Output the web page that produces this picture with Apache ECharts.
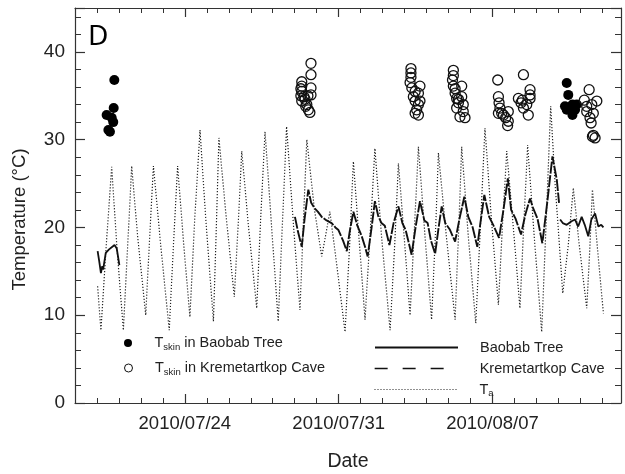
<!DOCTYPE html>
<html>
<head>
<meta charset="utf-8">
<script src="https://cdn.jsdelivr.net/npm/echarts@6/dist/echarts.min.js"></script>
<style>
  html, body { margin: 0; padding: 0; background: #fff; }
  #chart { width: 625px; height: 474px; }
</style>
</head>
<body>
<div id="chart"></div>
<script>
// x values are days since 2010-07-19 00:00
const xTickDays = [5, 12, 19];
const xTickLabels = ['2010/07/24', '2010/07/31', '2010/08/07'];
const yTickLabels = [0, 10, 20, 30, 40];

// Air temperature T_a (dotted)
const airTemp = [
  [1.03, 13.3], [1.18, 8.3], [1.45, 19.0], [1.67, 26.9], [1.9, 18.0], [2.2, 8.3],
  [2.42, 19.0], [2.58, 27.0], [2.85, 19.0], [3.22, 10.0], [3.4, 19.0], [3.57, 27.0],
  [3.9, 18.0], [4.29, 8.3], [4.48, 18.0], [4.67, 27.0], [4.95, 18.0], [5.23, 9.8],
  [5.45, 21.0], [5.69, 31.1], [5.95, 21.0], [6.3, 9.3], [6.42, 19.0], [6.55, 30.2],
  [6.85, 22.0], [7.25, 12.1], [7.42, 20.0], [7.59, 28.7], [7.9, 20.0], [8.27, 10.8],
  [8.45, 21.0], [8.65, 30.9], [8.95, 20.0], [9.25, 9.3], [9.45, 21.0], [9.63, 31.5],
  [9.95, 20.0], [10.24, 10.6], [10.4, 21.0], [10.55, 30.0], [10.9, 22.0], [11.23, 16.7],
  [11.4, 19.0], [11.6, 21.8], [11.9, 16.0], [12.29, 8.1], [12.5, 18.0], [12.67, 27.5],
  [12.95, 18.0], [13.2, 9.5], [13.45, 20.0], [13.65, 29.0], [13.95, 19.0], [14.34, 8.3],
  [14.55, 18.0], [14.72, 27.3], [14.98, 19.0], [15.25, 10.0], [15.45, 20.0], [15.63, 29.2],
  [15.93, 19.0], [16.23, 9.5], [16.4, 19.0], [16.54, 28.5], [16.9, 19.0], [17.3, 9.5],
  [17.45, 19.0], [17.6, 29.2], [17.9, 19.0], [18.24, 9.1], [18.45, 20.0], [18.66, 31.3],
  [18.95, 21.0], [19.27, 11.2], [19.45, 20.0], [19.65, 28.7], [19.95, 20.0], [20.25, 10.8],
  [20.42, 20.0], [20.6, 29.4], [20.9, 19.0], [21.24, 8.1], [21.45, 21.0], [21.65, 33.8],
  [21.85, 25.0], [22.2, 12.5], [22.45, 18.0], [22.68, 24.5], [22.95, 18.0], [23.29, 10.8],
  [23.42, 17.0], [23.55, 24.3], [23.8, 17.0], [24.05, 10.2]
];

// Baobab Tree roost temperature (solid)
const baobabTemp = [
  [1.03, 17.3], [1.1, 16.2], [1.18, 14.8], [1.24, 15.6], [1.28, 15.2], [1.4, 17.1],
  [1.55, 17.5], [1.7, 17.8], [1.8, 18.0], [1.9, 17.6], [2.02, 15.7],
  [5.0, null],
  [22.08, 20.9], [22.2, 20.5], [22.38, 20.3], [22.6, 20.7], [22.76, 20.9], [22.9, 20.1],
  [23.06, 21.2], [23.2, 20.3], [23.36, 19.0], [23.5, 20.9], [23.67, 21.6], [23.82, 20.1],
  [23.95, 20.3], [24.05, 20.0]
];

// Kremetartkop Cave roost temperature (dashed)
const caveTemp = [
  [10.01, 21.2], [10.15, 19.5], [10.32, 17.8], [10.45, 21.0], [10.62, 24.3], [10.75, 22.8],
  [10.9, 22.2], [11.05, 21.8], [11.23, 21.2], [11.45, 20.8], [11.68, 20.5], [11.85, 20.0],
  [11.99, 19.7], [12.2, 18.5], [12.37, 17.3], [12.5, 19.5], [12.67, 21.8], [12.85, 20.2],
  [13.05, 19.0], [13.2, 17.8], [13.32, 16.7], [13.5, 20.0], [13.65, 23.0], [13.8, 21.3],
  [13.95, 20.5], [14.1, 20.2], [14.31, 18.0], [14.5, 20.5], [14.72, 22.4], [14.9, 20.5],
  [15.05, 19.7], [15.32, 16.9], [15.5, 20.0], [15.7, 23.0], [15.9, 20.8], [16.05, 20.5],
  [16.2, 18.5], [16.39, 17.0], [16.55, 20.0], [16.69, 22.4], [16.85, 20.5], [17.05, 19.8],
  [17.3, 18.4], [17.5, 21.0], [17.72, 23.5], [17.9, 21.2], [18.1, 20.0], [18.31, 17.8],
  [18.45, 20.5], [18.63, 23.7], [18.85, 21.2], [19.05, 20.2], [19.3, 18.8], [19.5, 22.0],
  [19.7, 25.6], [19.85, 22.0], [20.05, 21.0], [20.3, 19.2], [20.5, 21.5], [20.71, 23.3],
  [20.85, 22.2], [21.05, 21.0], [21.27, 18.2], [21.5, 23.0], [21.73, 28.1], [21.93, 25.4],
  [22.03, 22.8]
];

// Skin temperature of bats in the Baobab Tree (filled circles)
const skinBaobab = [
  [1.79, 36.8], [1.76, 33.6], [1.44, 32.8], [1.67, 32.5], [1.74, 32.0], [1.52, 31.1], [1.59, 30.9],
  [22.38, 36.45], [22.45, 35.1], [22.30, 33.8], [22.64, 34.0], [22.76, 33.4], [22.53, 33.4],
  [22.38, 33.4], [22.64, 32.8], [22.84, 34.0]
];

// Skin temperature of bats in Kremetartkop Cave (open circles)
const skinCave = [
  [10.74, 38.7], [10.74, 37.4], [10.74, 35.9], [10.74, 35.1], [10.32, 36.6], [10.32, 36.1],
  [10.32, 35.5], [10.28, 35.0], [10.32, 34.4], [10.47, 34.6], [10.55, 34.0], [10.62, 33.4],
  [10.69, 33.1], [10.42, 34.9], [10.28, 35.8], [10.6, 35.0], [10.5, 33.8],
  [15.29, 38.1], [15.29, 37.6], [15.29, 37.1], [15.25, 36.5], [15.33, 35.9], [15.70, 36.1],
  [15.48, 35.5], [15.40, 34.9], [15.48, 34.4], [15.63, 34.0], [15.70, 34.4], [15.55, 33.4],
  [15.63, 32.8], [15.48, 33.0], [15.63, 35.3],
  [17.22, 37.9], [17.22, 37.3], [17.18, 36.8], [17.22, 36.1], [17.60, 36.1], [17.30, 35.3],
  [17.37, 34.7], [17.60, 34.9], [17.45, 34.2], [17.67, 34.0], [17.37, 33.6], [17.67, 33.2],
  [17.52, 32.6], [17.75, 32.5], [17.45, 34.6], [17.30, 35.8],
  [19.24, 36.8], [19.27, 34.9], [19.30, 34.2], [19.34, 33.6], [19.42, 33.0], [19.72, 33.2],
  [19.60, 32.5], [19.72, 32.1], [19.69, 31.6], [19.27, 33.0], [19.5, 32.8],
  [20.41, 37.4], [20.18, 34.7], [20.36, 34.5], [20.71, 35.7], [20.71, 35.1], [20.71, 34.7],
  [20.56, 34.0], [20.41, 33.6], [20.63, 32.8], [20.30, 34.2],
  [23.40, 35.7], [23.18, 34.5], [23.75, 34.4], [23.29, 33.8], [23.52, 34.0], [23.29, 33.2],
  [23.59, 33.0], [23.44, 32.5], [23.49, 31.9], [23.59, 30.5], [23.67, 30.2], [23.55, 30.35]
];

const FONT = 'Liberation Sans';
const AX = '#333';
const X_MIN = 0, X_MAX = 24.85, Y_MIN = 0, Y_MAX = 45;

function xAx(pos, major, extra) {
  return Object.assign({
    type: 'value', position: pos, min: X_MIN, max: X_MAX, interval: 1,
    axisLine: { show: !major, onZero: false, lineStyle: { color: AX, width: 1.2 } },
    axisTick: major
      ? { show: true, inside: true, length: 9, customValues: xTickDays, lineStyle: { color: AX, width: 1.2 } }
      : { show: true, inside: true, length: 5, lineStyle: { color: AX, width: 1 } },
    axisLabel: { show: false },
    splitLine: { show: false }
  }, extra || {});
}
function yAx(pos, major, extra) {
  return Object.assign({
    type: 'value', position: pos, min: Y_MIN, max: Y_MAX, interval: major ? 10 : 2,
    axisLine: { show: !major, onZero: false, lineStyle: { color: AX, width: 1.2 } },
    axisTick: major
      ? { show: true, inside: true, length: 10, lineStyle: { color: AX, width: 1.2 } }
      : { show: true, inside: true, length: 6, lineStyle: { color: AX, width: 1 } },
    axisLabel: { show: false },
    splitLine: { show: false }
  }, extra || {});
}

const labelMap = {};
xTickDays.forEach((d, i) => { labelMap[d] = xTickLabels[i]; });

const legendNames = {
  'Tskin in Baobab Tree': '{m|T}{s|skin}{m| in Baobab Tree}',
  'Tskin in Kremetartkop Cave': '{m|T}{s|skin}{m| in Kremetartkop Cave}',
  'Baobab Tree': '{m|Baobab Tree}',
  'Kremetartkop Cave': '{m|Kremetartkop Cave}',
  'Ta': '{m|T}{s|a}'
};
function legendText(padLeft) {
  return {
    color: '#222',
    padding: [0, 0, 0, padLeft],
    rich: {
      m: { fontFamily: FONT, fontSize: 14.5, color: '#222', lineHeight: 20 },
      s: { fontFamily: FONT, fontSize: 9.5, color: '#222', lineHeight: 20, verticalAlign: 'bottom', padding: [0, 0, 1, 0] }
    }
  };
}
const hiddenSymbol = { color: 'transparent', borderWidth: 0, opacity: 0 };
function leg(name, left, top, w, h, extra) {
  return Object.assign({
    data: [name], left: left, top: top, orient: 'vertical', padding: 0,
    itemWidth: w, itemHeight: h, selectedMode: false,
    formatter: n => legendNames[n],
    textStyle: legendText(0)
  }, extra || {});
}

const chart = echarts.init(document.getElementById('chart'), null, { renderer: 'canvas' });
chart.setOption({
  animation: false,
  backgroundColor: '#fff',
  title: {
    text: 'D', left: 83, top: 18,
    textStyle: { fontFamily: 'Noto Sans', fontSize: 28, fontWeight: 'normal', color: '#000' }
  },
  grid: { left: 75, right: 4, top: 8, bottom: 71, containLabel: false, outerBoundsMode: 'none' },
  xAxis: [
    xAx('bottom', false, {
      axisLabel: {
        show: true, margin: 11, color: '#222', fontFamily: FONT, fontSize: 18.5,
        formatter: v => labelMap[v] || ''
      },
      name: 'Date', nameLocation: 'middle', nameGap: 49,
      nameTextStyle: { fontFamily: FONT, fontSize: 19.5, color: '#222' }
    }),
    xAx('bottom', true),
    xAx('top', false),
    xAx('top', true)
  ],
  yAxis: [
    yAx('left', false, {
      axisLabel: {
        show: true, margin: 10, color: '#222', fontFamily: FONT, fontSize: 19,
        formatter: v => (yTickLabels.indexOf(v) >= 0 ? String(v) : '')
      },
      name: 'Temperature (°C)', nameLocation: 'middle', nameGap: 46,
      nameTextStyle: { fontFamily: FONT, fontSize: 18.5, color: '#222', padding: [0, 28, 0, 0] }
    }),
    yAx('left', true),
    yAx('right', false),
    yAx('right', true)
  ],
  legend: [
    leg('Tskin in Baobab Tree', 124, 335.5, 43, 8),
    leg('Tskin in Kremetartkop Cave', 124, 360.5, 43, 8, { itemStyle: { borderWidth: 1 } }),
    leg('Baobab Tree', 374, 340, 83, 10, { textStyle: legendText(17), itemStyle: hiddenSymbol }),
    leg('Kremetartkop Cave', 374, 361, 83, 10, {
      data: [{ name: 'Kremetartkop Cave', lineStyle: { type: [13, 15], width: 1.3 } }],
      textStyle: legendText(17), itemStyle: hiddenSymbol
    }),
    leg('Ta', 374, 382, 83, 10, {
      data: [{ name: 'Ta', lineStyle: { type: [1, 2], width: 1 } }],
      textStyle: legendText(17), itemStyle: hiddenSymbol
    })
  ],
  series: [
    {
      name: 'Ta', type: 'line', data: airTemp, symbol: 'none', showSymbol: false,
      itemStyle: { color: '#222' },
      lineStyle: { color: '#222', width: 1.2, type: [1.2, 1.8] }, z: 2
    },
    {
      name: 'Baobab Tree', type: 'line', data: baobabTemp, symbol: 'none', showSymbol: false,
      itemStyle: { color: '#111' },
      connectNulls: false, lineStyle: { color: '#111', width: 1.8, type: 'solid' }, z: 3
    },
    {
      name: 'Kremetartkop Cave', type: 'line', data: caveTemp, symbol: 'none', showSymbol: false,
      itemStyle: { color: '#111' },
      lineStyle: { color: '#111', width: 1.9, type: [12, 1.5] }, z: 3
    },
    {
      name: 'Tskin in Baobab Tree', type: 'scatter', data: skinBaobab, symbol: 'circle', symbolSize: 10,
      itemStyle: { color: '#000', opacity: 1 }, z: 4
    },
    {
      name: 'Tskin in Kremetartkop Cave', type: 'scatter', data: skinCave, symbol: 'circle', symbolSize: 10,
      itemStyle: { color: 'transparent', borderColor: '#111', borderWidth: 1.3, opacity: 1 }, z: 4
    }
  ]
});
</script>
</body>
</html>
